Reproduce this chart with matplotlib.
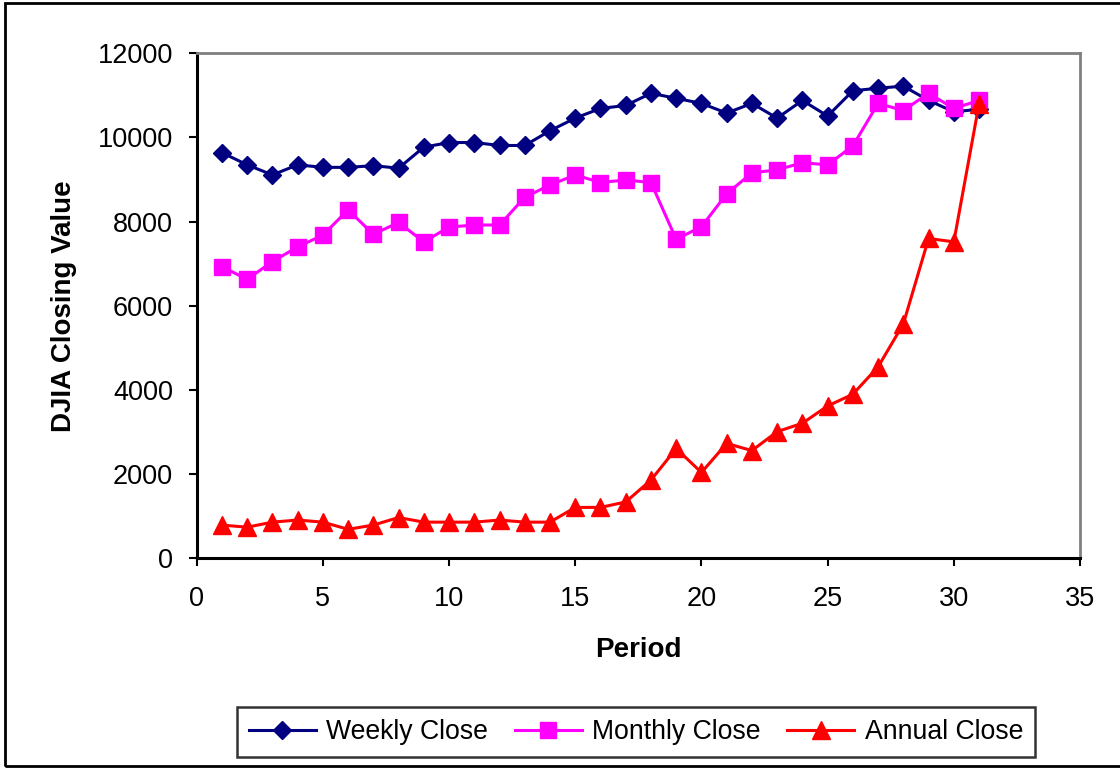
import matplotlib
matplotlib.use("Agg")
import matplotlib.pyplot as plt
from matplotlib.patches import Rectangle

plt.rcParams['font.family'] = ['Liberation Sans', 'DejaVu Sans']

# DJIA closing values by period
period = list(range(1, 32))
weekly = [9640, 9350, 9110, 9350, 9290, 9290, 9330, 9270, 9770, 9880, 9880, 9810, 9810, 10160, 10460, 10690,
          10760, 11050, 10930, 10810, 10580, 10810, 10460, 10880, 10510, 11110, 11170, 11220, 10880, 10610, 10670]
monthly = [6930, 6630, 7050, 7400, 7680, 8280, 7700, 7980, 7520, 7870, 7920, 7920, 8580, 8870, 9110, 8930,
           8990, 8930, 7580, 7880, 8660, 9160, 9230, 9400, 9350, 9800, 10810, 10640, 11050, 10690, 10880]
annual = [790, 740, 860, 910, 860, 690, 790, 970, 860, 860, 860, 910, 860, 860, 1210, 1210,
          1340, 1860, 2610, 2040, 2730, 2560, 3010, 3210, 3620, 3900, 4550, 5570, 7600, 7520, 10800]

xticks = list(range(0, 36, 5))
yticks = list(range(0, 12001, 2000))

fig = plt.figure(figsize=(11.2, 7.68), dpi=100)
ax = fig.add_axes([0.1756, 0.273, 0.7887, 0.6576])

ax.plot(period, weekly, color="#000080", lw=2.2, marker="D", ms=8.8, label="Weekly Close")
ax.plot(period, monthly, color="#FF00FF", lw=2.2, marker="s", ms=11, label="Monthly Close")
ax.plot(period, annual, color="#FF0000", lw=2.2, marker="^", ms=12.5, label="Annual Close")

ax.set_xlim(0, 35)
ax.set_ylim(0, 12000)
ax.set_xticks(xticks)
ax.set_yticks(yticks)
ax.tick_params(axis="both", direction="out", length=6, width=1.5, labelsize=19.5)
ax.tick_params(axis="x", pad=14)
ax.tick_params(axis="y", pad=11)

for side in ["left", "bottom"]:
    ax.spines[side].set_color("black")
    ax.spines[side].set_linewidth(2.2)
for side in ["top", "right"]:
    ax.spines[side].set_color("#808080")
    ax.spines[side].set_linewidth(2.0)

ax.set_xlabel("Period", fontsize=20, fontweight="bold")
ax.set_ylabel("DJIA Closing Value", fontsize=20, fontweight="bold")
ax.xaxis.set_label_coords(0.5, -0.182)
ax.xaxis.label.set_va("center")
ax.yaxis.set_label_coords(-0.150, 0.5)
ax.yaxis.label.set_va("center")

leg = fig.legend(loc="center", bbox_to_anchor=(0.568, 0.047), ncol=3, fontsize=19.2,
                 frameon=True, fancybox=False, edgecolor="black", handlelength=2.5,
                 handletextpad=0.4, columnspacing=1.0, borderpad=0.45, borderaxespad=0.2)
leg.get_frame().set_linewidth(1.8)

# chart border
fig.patches.append(Rectangle((0.0045, 0.002), 1.2, 0.9935, transform=fig.transFigure,
                             fill=False, edgecolor="black", lw=2.0, clip_on=False))

fig.savefig("out.png", dpi=100)
